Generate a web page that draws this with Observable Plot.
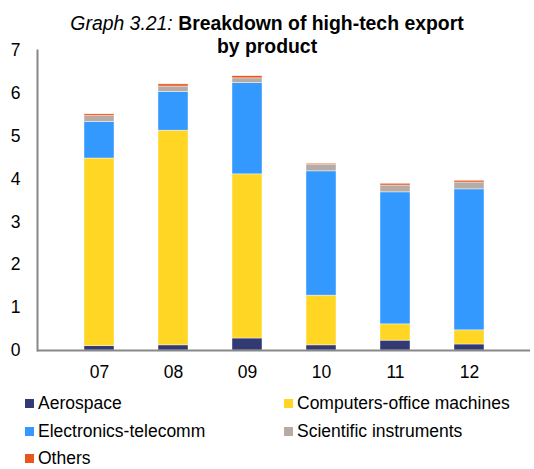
<!DOCTYPE html>
<html>
<head>
<meta charset="utf-8">
<script src="https://cdn.jsdelivr.net/npm/d3@7"></script>
<script src="https://cdn.jsdelivr.net/npm/@observablehq/plot@0.6"></script>
<style>
  html, body { margin: 0; padding: 0; background: #fff; }
  #wrap { position: relative; width: 534px; height: 469px; font-family: "Liberation Sans", Arial, sans-serif; color: #000; overflow: hidden; }
  #title { position: absolute; left: 0; width: 534px; top: 12px; text-align: center; font-size: 19.4px; line-height: 23px; padding-left: 0px; box-sizing: border-box; }
  #title i { font-style: italic; }
  #title b { font-weight: bold; }
  #chart { position: absolute; left: 0; top: 0; }
  .leg { position: absolute; font-size: 17.5px; line-height: 14px; white-space: nowrap; }
  .sw { position: absolute; width: 9px; height: 9px; }
</style>
</head>
<body>
<div id="wrap">
  <div id="chart"></div>
  <div id="title"><i>Graph 3.21:</i> <b>Breakdown of high-tech export</b><br><b>by product</b></div>
  <div id="legend"></div>
</div>
<script>
const years = ["07", "08", "09", "10", "11", "12"];
const products = ["Aerospace", "Computers-office machines", "Electronics-telecomm", "Scientific instruments", "Others"];
const colors = ["#333a73", "#ffd624", "#3399ff", "#b8aba4", "#e8561e"];
const aerospace = [0.10, 0.12, 0.28, 0.12, 0.23, 0.14];
const computers = [4.38, 5.01, 3.83, 1.16, 0.38, 0.33];
const electronics = [0.85, 0.90, 2.13, 2.90, 3.08, 3.29];
const scientific = [0.14, 0.13, 0.11, 0.16, 0.16, 0.16];
const others = [0.04, 0.05, 0.05, 0.02, 0.04, 0.04];
const yTicks = [0, 1, 2, 3, 4, 5, 6, 7];

const series = [aerospace, computers, electronics, scientific, others];
const data = [];
years.forEach((yr, i) => {
  products.forEach((p, j) => {
    data.push({year: yr, product: p, value: series[j][i]});
  });
});

const plot = Plot.plot({
  width: 534,
  height: 390,
  marginTop: 50,
  marginBottom: 40,
  marginLeft: 37,
  marginRight: 4,
  style: {fontFamily: "'Liberation Sans', Arial, sans-serif", fontSize: "17.5px", color: "#000", background: "transparent"},
  x: {domain: years, padding: 0.6, label: null},
  y: {domain: [0, 7], label: null},
  color: {domain: products, range: colors},
  marks: [
    Plot.barY(data, Plot.stackY({order: null}, {x: "year", y: "value", fill: "product", stroke: "#ffffff", strokeWidth: 0.6, strokeOpacity: 0.7})),
    Plot.axisY(yTicks, {tickSize: 0, tickPadding: 17, fontSize: 17.5, label: null}),
    Plot.axisX({tickSize: 0, tickPadding: 15, fontSize: 17.5, label: null}),
    Plot.frame({anchor: "left", stroke: "#888", strokeWidth: 2}),
    Plot.ruleY([0], {stroke: "#888", strokeWidth: 2})
  ]
});
document.getElementById("chart").appendChild(plot);

const legend = document.getElementById("legend");
const pos = [[25, 403], [284, 403], [25, 431], [284, 431], [25, 458]];
products.forEach((p, j) => {
  const [x, y] = pos[j];
  const sw = document.createElement("div");
  sw.className = "sw";
  sw.style.left = x + "px";
  sw.style.top = (y - 4.5) + "px";
  sw.style.background = colors[j];
  legend.appendChild(sw);
  const t = document.createElement("div");
  t.className = "leg";
  t.style.left = (x + 13) + "px";
  t.style.top = (y - 7) + "px";
  t.textContent = p;
  legend.appendChild(t);
});
</script>
</body>
</html>
